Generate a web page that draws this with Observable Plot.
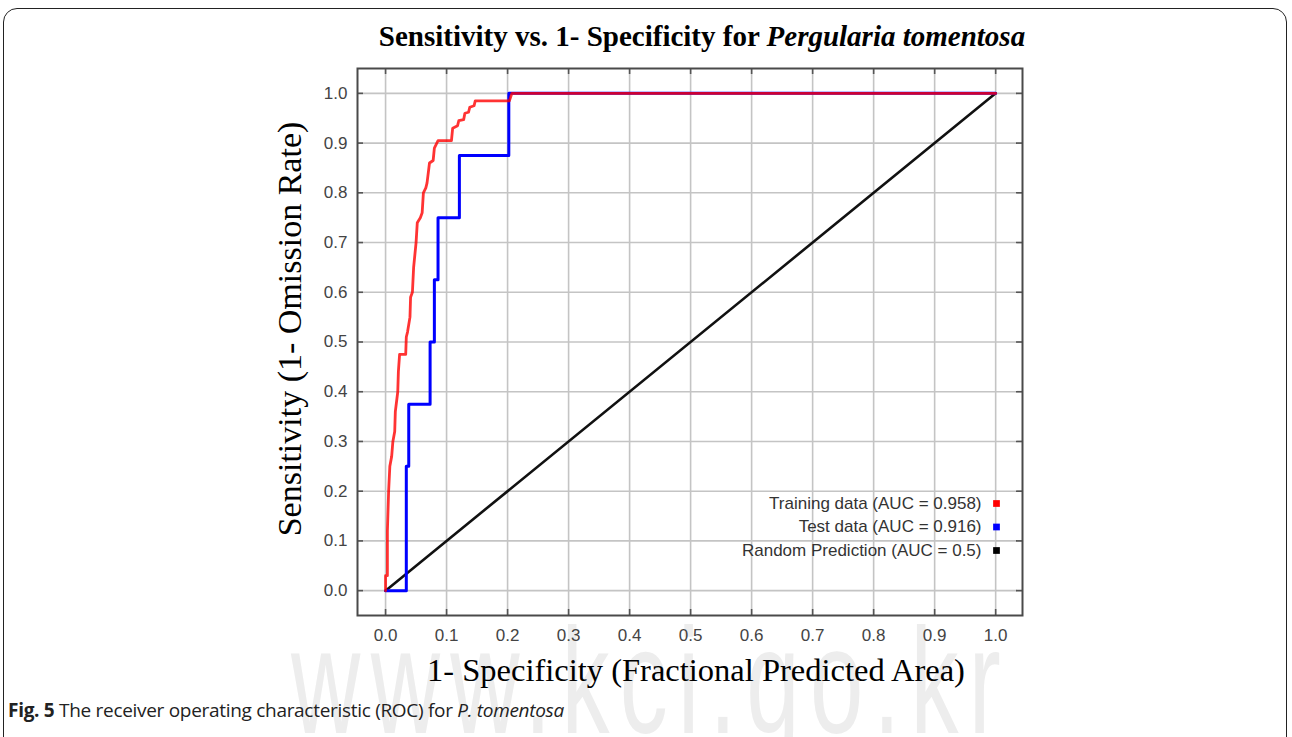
<!DOCTYPE html>
<html>
<head>
<meta charset="utf-8">
<script src="https://cdn.jsdelivr.net/npm/d3@7"></script>
<script src="https://cdn.jsdelivr.net/npm/@observablehq/plot@0.6"></script>
<style>
  html, body { margin: 0; padding: 0; background: #fff; }
  #wrap { position: relative; width: 1292px; height: 737px; overflow: hidden; background: #fff; }
  #border { position: absolute; left: 3px; top: 8px; width: 1284px; height: 760px; border: 1.5px solid #222; border-radius: 14px; box-sizing: border-box; }
  #watermark { position: absolute; left: 0; width: 1292px; top: 606px; line-height: 150px; text-align: center; font-family: "Liberation Sans", sans-serif; font-size: 150px; color: #ededed; letter-spacing: 16px; transform: scaleX(0.64); transform-origin: 660px 0; white-space: nowrap; }
  #title { position: absolute; left: 202px; width: 1000px; top: 20px; text-align: center; font-family: "Liberation Serif", serif; font-weight: bold; font-size: 29px; color: #000; white-space: nowrap; }
  #chart { position: absolute; left: 0; top: 0; }
  #caption { position: absolute; left: 8px; top: 697px; font-family: "Open Sans", sans-serif; font-size: 19px; color: #222; white-space: nowrap; letter-spacing: -0.3px; }
</style>
</head>
<body>
<div id="wrap">
  <div id="border"></div>
  <div id="watermark">www.kci.go.kr</div>
  <div id="title">Sensitivity vs. 1- Specificity for <i>Pergularia tomentosa</i></div>
  <div id="chart"></div>
  <div id="caption"><b>Fig. 5</b> The receiver operating characteristic (ROC) for <i>P. tomentosa</i></div>
</div>
<script>
// ---- Data ----
const trainFPR = [0, 0, 0.003, 0.003, 0.005, 0.007, 0.010, 0.012, 0.015, 0.016, 0.020, 0.021, 0.023, 0.033, 0.034, 0.036, 0.040, 0.041, 0.044, 0.046, 0.050, 0.052, 0.057, 0.060, 0.062, 0.066, 0.068, 0.072, 0.078, 0.080, 0.086, 0.108, 0.110, 0.118, 0.120, 0.128, 0.130, 0.136, 0.138, 0.145, 0.147, 0.203, 0.207, 1.0];
const trainTPR = [0, 0.03, 0.03, 0.12, 0.20, 0.25, 0.27, 0.30, 0.32, 0.36, 0.40, 0.44, 0.475, 0.475, 0.51, 0.52, 0.55, 0.59, 0.60, 0.65, 0.70, 0.74, 0.75, 0.76, 0.80, 0.81, 0.82, 0.86, 0.865, 0.89, 0.905, 0.905, 0.93, 0.935, 0.945, 0.947, 0.96, 0.962, 0.972, 0.975, 0.985, 0.985, 1.0, 1.0];

const testFPR = [0, 0.034, 0.034, 0.038, 0.038, 0.073, 0.073, 0.080, 0.080, 0.086, 0.086, 0.121, 0.121, 0.202, 0.202, 1.0];
const testTPR = [0, 0, 0.25, 0.25, 0.375, 0.375, 0.5, 0.5, 0.625, 0.625, 0.75, 0.75, 0.875, 0.875, 1.0, 1.0];

const randomFPR = [0, 1];
const randomTPR = [0, 1];

const tickValues = [0.0, 0.1, 0.2, 0.3, 0.4, 0.5, 0.6, 0.7, 0.8, 0.9, 1.0];
const legendLabels = ["Training data (AUC = 0.958)", "Test data (AUC = 0.916)", "Random Prediction (AUC = 0.5)"];
const xLabel = "1- Specificity (Fractional Predicted Area)";
const yLabel = "Sensitivity (1- Omission Rate)";

// ---- Build tables ----
const toRows = (xs, ys) => xs.map((x, i) => ({x, y: ys[i]}));
const train = toRows(trainFPR, trainTPR);
const test = toRows(testFPR, testTPR);
const random = toRows(randomFPR, randomTPR);

const legendColors = ["#ff0000", "#0000ff", "#000000"];
const fmt = d3.format(".1f");

const legendMarks = legendLabels.flatMap((label, i) => {
  const dy = -(65 + 23.5 * (2 - i));
  return [
    Plot.text([label], {frameAnchor: "bottom-right", text: d => d, textAnchor: "end", lineAnchor: "middle", dx: -41, dy, fontSize: 17, fill: "#333", fontFamily: "Liberation Sans, Arial, sans-serif"}),
    Plot.dot([label], {frameAnchor: "bottom-right", symbol: "square", r: 3.8, fill: legendColors[i], stroke: null, dx: -26, dy})
  ];
});

const chart = Plot.plot({
  width: 1292,
  height: 737,
  marginLeft: 357,
  marginRight: 270,
  marginTop: 68,
  marginBottom: 122,
  style: {background: "transparent", fontFamily: "Liberation Sans, Arial, sans-serif"},
  x: {domain: [-0.046, 1.044]},
  y: {domain: [-0.05, 1.05]},
  marks: [
    Plot.gridX(tickValues, {stroke: "#c4c4c4", strokeOpacity: 1, strokeWidth: 1.6}),
    Plot.gridY(tickValues, {stroke: "#c4c4c4", strokeOpacity: 1, strokeWidth: 1.6}),
    // inward tick marks on the frame
    Plot.tickX(tickValues, {x: d => d, insetTop: 541, stroke: "#555", strokeWidth: 1.6}),
    Plot.tickX(tickValues, {x: d => d, insetBottom: 541, stroke: "#555", strokeWidth: 1.6}),
    Plot.tickY(tickValues, {y: d => d, insetLeft: 659, stroke: "#555", strokeWidth: 1.6}),
    Plot.tickY(tickValues, {y: d => d, insetRight: 659, stroke: "#555", strokeWidth: 1.6}),
    Plot.axisX(tickValues, {anchor: "bottom", tickSize: 0, tickPadding: 13, tickFormat: fmt, fontSize: 17, fill: "#444", label: null}),
    Plot.axisY(tickValues, {anchor: "left", tickSize: 0, tickPadding: 10, tickFormat: fmt, fontSize: 17, fill: "#444", label: null}),
    Plot.line(random, {x: "x", y: "y", stroke: "#111", strokeWidth: 2.6}),
    Plot.line(test, {x: "x", y: "y", stroke: "#0000ff", strokeWidth: 3}),
    Plot.line(train, {x: "x", y: "y", stroke: "#ff0000", strokeWidth: 2.8, strokeOpacity: 0.8}),
    Plot.frame({stroke: "#4a4a4a", strokeWidth: 2}),
    ...legendMarks,
    Plot.text([xLabel], {frameAnchor: "bottom", text: d => d, textAnchor: "middle", dx: 6, dy: 55, lineAnchor: "middle", fontSize: 32.5, fill: "#000", fontFamily: "Liberation Serif, Times New Roman, serif"}),
    Plot.text([yLabel], {frameAnchor: "left", text: d => d, textAnchor: "middle", dx: -67, dy: -13, rotate: -90, lineAnchor: "middle", fontSize: 34, fill: "#000", fontFamily: "Liberation Serif, Times New Roman, serif"})
  ]
});
document.getElementById("chart").appendChild(chart);
</script>
</body>
</html>
